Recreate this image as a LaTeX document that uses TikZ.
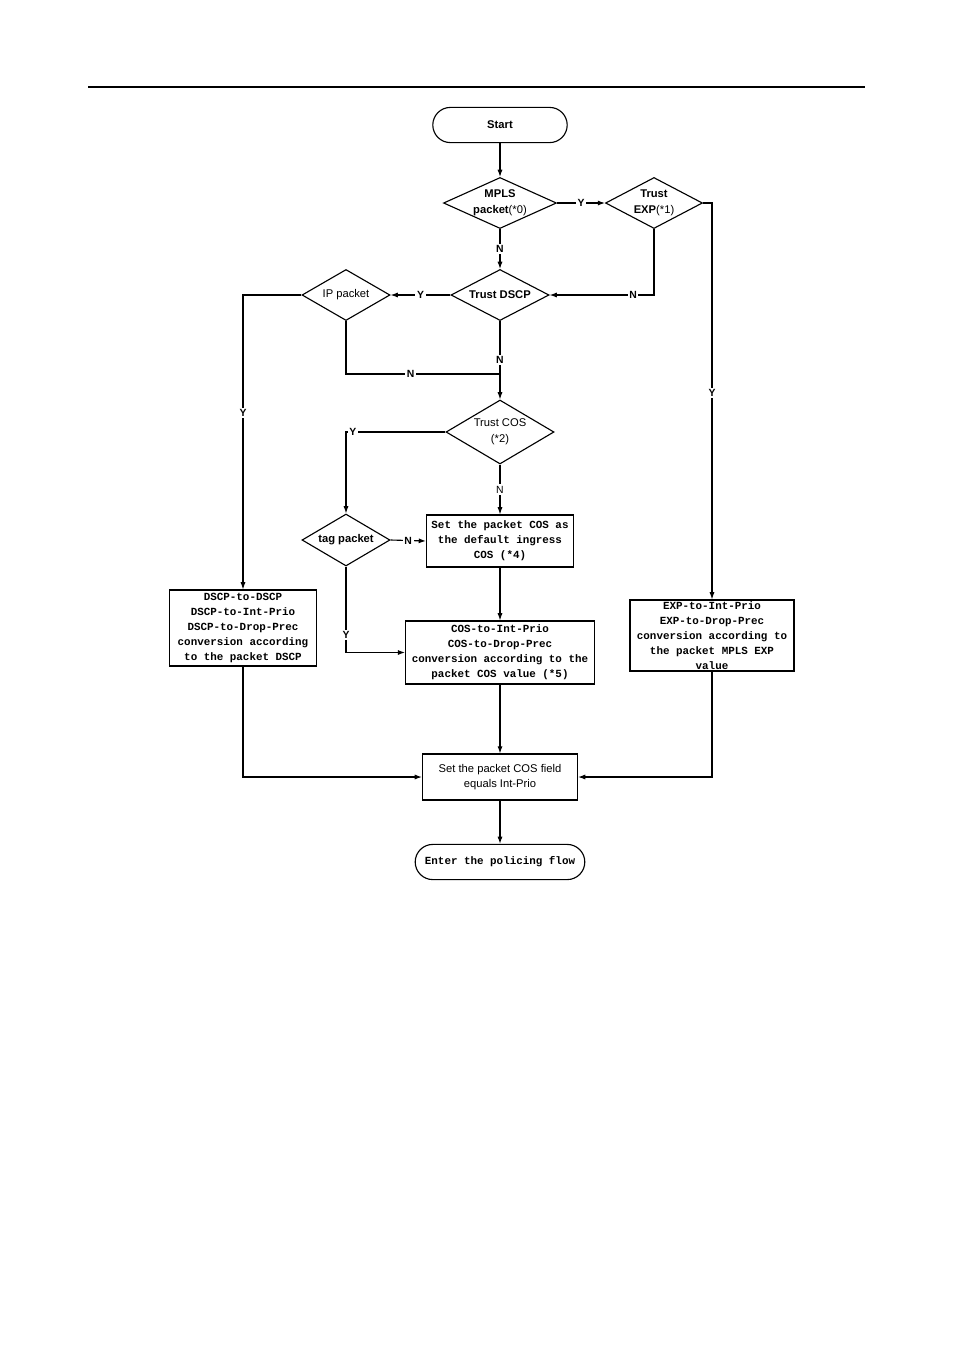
\documentclass[tikz,border=0pt]{standalone}
\usepackage{fontspec}
\setmainfont{Liberation Sans}
\newfontfamily\boxfont{Liberation Mono}
\usetikzlibrary{shapes.geometric,arrows.meta}

\begin{document}
\begin{tikzpicture}[x=0.625pt,y=-0.625pt,line width=0.7pt,
	flow/.style={-{Latex[length=4.5pt,width=3.2pt]}},
	stop/.style={draw,rounded corners=11pt,minimum height=22pt,inner sep=0pt},
	dec/.style={draw,diamond,inner sep=0pt,align=center,font=\bfseries\fontsize{7}{10}\selectfont},
	proc/.style={draw,inner sep=0pt,align=center,font=\boxfont\bfseries\fontsize{6.8}{9.4}\selectfont},
	yn/.style={fill=white,inner sep=1pt,font=\bfseries\fontsize{6.5}{7}\selectfont}]
	\useasboundingbox (0,0) rectangle (954,1350);
	\draw (88,87) -- (865,87);
	\node[stop,minimum width=84pt,font=\bfseries\fontsize{7}{9}\selectfont] (start) at (500,125) {Start};
	\node[dec,aspect=2.2,minimum width=70.6pt,minimum height=31.9pt] (mpls) at (500,203) {MPLS\\packet\mdseries(*0)};
	\node[dec,aspect=1.9,minimum width=60.6pt,minimum height=31.9pt] (exp) at (654,203) {Trust\\EXP\mdseries(*1)};
	\node[dec,aspect=1.9,minimum width=61.3pt,minimum height=31.9pt] (dscp) at (500,295) {Trust DSCP};
	\node[dec,aspect=1.7,minimum width=55pt,minimum height=31.9pt,font=\fontsize{7}{10}\selectfont] (ip) at (346,295) {IP packet};
	\node[dec,aspect=1.7,minimum width=67.5pt,minimum height=40pt,font=\fontsize{7}{10}\selectfont] (cos) at (500,432) {Trust COS\\(*2)};
	\node[dec,aspect=1.7,minimum width=55pt,minimum height=32.5pt] (tag) at (346,540) {tag packet};
	\node[proc,minimum width=91.9pt,minimum height=32.5pt] (setcos) at (500,541) {Set the packet COS as\\the default ingress\\COS (*4)};
	\node[proc,minimum width=118pt,minimum height=39.4pt] (cosmap) at (500,652.5) {COS-to-Int-Prio\\COS-to-Drop-Prec\\conversion according to the\\packet COS value (*5)};
	\node[proc,minimum width=91.9pt,minimum height=47.5pt] (dscpmap) at (243,628) {DSCP-to-DSCP\\DSCP-to-Int-Prio\\DSCP-to-Drop-Prec\\conversion according\\to the packet DSCP};
	\node[proc,minimum width=102.5pt,minimum height=44.4pt] (expmap) at (712,635.5) {EXP-to-Int-Prio\\EXP-to-Drop-Prec\\conversion according to\\the packet MPLS EXP\\value};
	\node[draw,inner sep=0pt,align=center,minimum width=96.9pt,minimum height=28.75pt,font=\fontsize{7}{9.4}\selectfont] (field) at (500,777) {Set the packet COS field\\equals Int-Prio};
	\node[stop,minimum width=106pt,font=\boxfont\bfseries\fontsize{6.8}{9}\selectfont] (end) at (500,862) {Enter the policing flow};
	\coordinate (join) at (500,374);
	\draw[flow] (start) -- (mpls);
	\draw[flow] (mpls.east) -- node[yn] {Y} (exp.west);
	\draw[flow] (exp.east) -| node[yn,pos=0.74] {Y} (expmap.north);
	\draw[flow] (exp.south) |- node[yn,pos=0.6] {N} (dscp.east);
	\draw[flow] (mpls.south) -- node[yn] {N} (dscp.north);
	\draw[flow] (dscp.west) -- node[yn] {Y} (ip.east);
	\draw[flow] (ip.west) -| node[yn,pos=0.7] {Y} (dscpmap.north);
	\draw (ip.south) |- node[yn,pos=0.71] {N} (join);
	\draw[flow] (dscp.south) -- node[yn] {N} (cos.north);
	\draw[flow] (cos.west) -| node[yn,pos=0.465] {Y} (tag.north);
	\draw[flow] (cos.south) -- node[yn,font=\fontsize{6.5}{7}\selectfont] {N} (setcos.north);
	\draw[flow] (tag.east) -- node[yn] {N} (setcos.west);
	\draw[flow] (tag.south) |- node[yn,pos=0.4] {Y} (cosmap.west);
	\draw[flow] (setcos.south) -- (cosmap.north);
	\draw[flow] (dscpmap.south) |- (field.west);
	\draw[flow] (cosmap.south) -- (field.north);
	\draw[flow] (expmap.south) |- (field.east);
	\draw[flow] (field.south) -- (end.north);
\end{tikzpicture}
\end{document}
